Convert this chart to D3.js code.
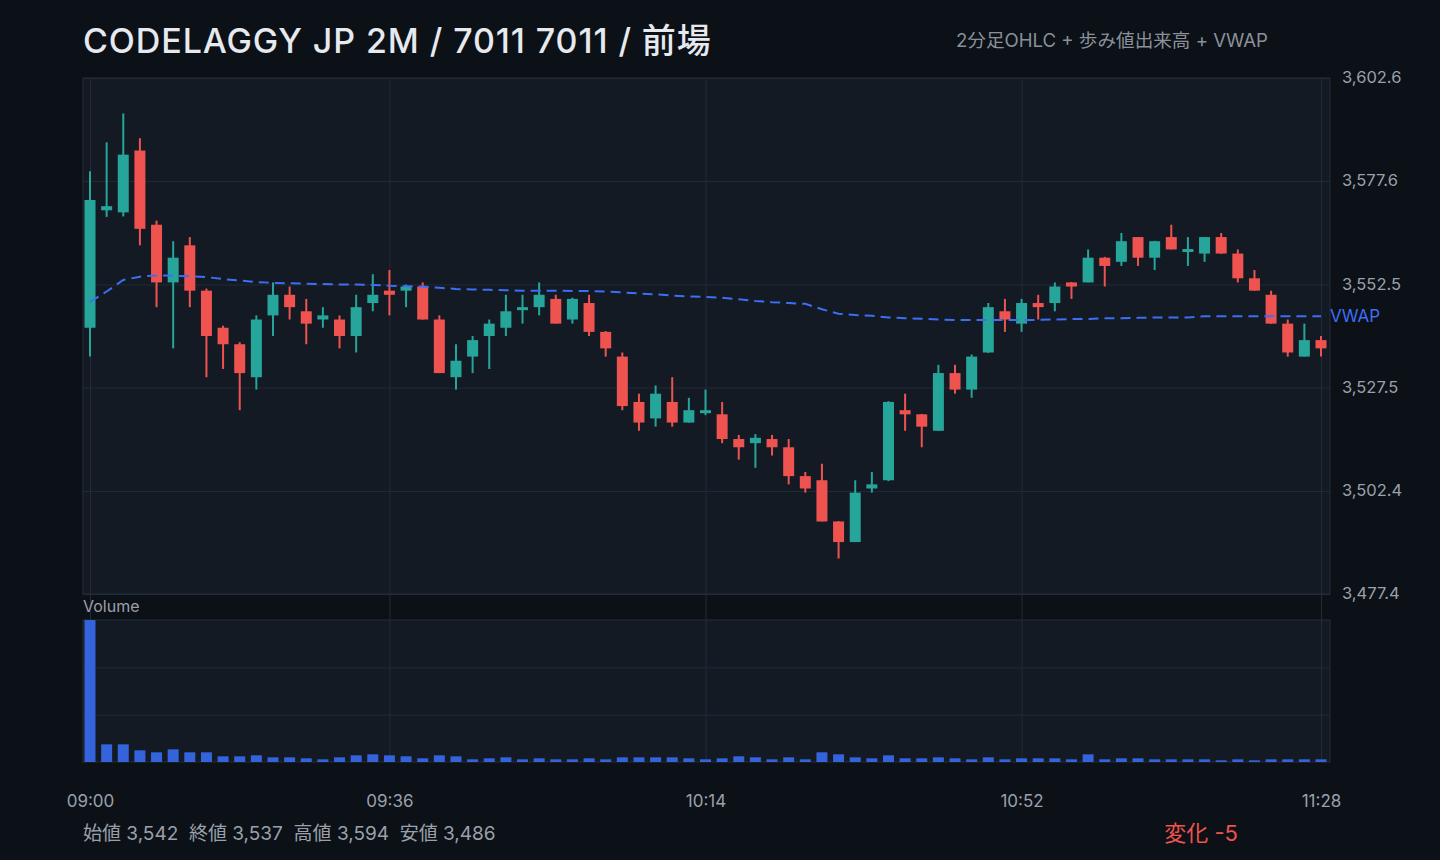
<!DOCTYPE html>
<html><head><meta charset="utf-8">
<script src="https://cdn.jsdelivr.net/npm/d3@7"></script>
<style>
html,body{margin:0;padding:0;background:#0c1017;}
svg{display:block;}
text{font-family:Inter,"Noto Sans CJK JP","Noto Sans",sans-serif;}
</style></head>
<body><svg id="c" width="1440" height="860"></svg>
<script>
// ---- data (2-minute candles, 09:00 .. 11:28) ----
const tickLabels = ["09:00","09:36","10:14","10:52","11:28"];
const tickIndex = [0,18,37,56,74];
const priceTicks = [3477.4,3502.4,3527.5,3552.5,3577.6,3602.6];

const open = [
 3542,3570.5,3570,3585,3567,3553,3562,3551,3542,3538,
 3530,3545,3550,3546,3544,3544,3540,3548,3551,3551,
 3552,3544,3530,3535,3540,3542,3546.3,3547,3549,3544,
 3548,3541,3535,3524,3520,3524,3519,3521.3,3521,3515,
 3514,3515,3513,3506,3505,3495,3490,3503,3505,3522,
 3521,3517,3531,3527,3536,3546,3543,3548,3548,3553,
 3553,3559,3558,3564,3559,3564,3560.4,3560,3564,3560,
 3554,3550,3543,3535,3539];
const high = [
 3580,3587,3594,3588,3568,3563,3564,3551.5,3542.5,3538.5,
 3545,3553,3552,3549,3547,3545,3550,3555,3556,3552.5,
 3553,3545,3538,3540,3544,3550,3550,3553,3550,3549.3,
 3550,3541.2,3536,3526,3528,3530,3525,3527,3524,3516,
 3516.2,3516,3515,3507,3509,3495.1,3505,3507,3524.2,3526,
 3521.1,3533,3533,3535.5,3548,3549,3549,3550,3553,3553.1,
 3561,3559.2,3565,3564,3563.1,3567,3564,3564,3565,3561,
 3556,3551,3544,3543,3540];
const low = [
 3535,3568.9,3569,3562,3547,3537,3547,3530,3532,3522,
 3527,3540,3544,3538,3542,3537,3536,3546,3545,3547,
 3544,3531,3527,3531,3532,3540,3543,3545,3543,3543,
 3540,3535,3522,3517,3518,3518,3519,3520.8,3514,3510,
 3508,3511,3504,3502,3495,3486,3490,3502,3504.8,3517,
 3513,3517,3526,3525,3535.9,3541,3541,3544,3546,3549,
 3553,3552,3557,3557,3556,3561,3557,3558,3560,3553,
 3551,3543,3535,3535,3535];
const close = [
 3573,3571.5,3584,3566,3553,3559,3551,3540,3538,3531,
 3544,3550,3547,3543,3545,3540,3547,3550,3550,3552,
 3544,3531,3534,3539,3543,3546,3547,3550,3543,3549,
 3541,3537,3523,3519,3526,3519,3522,3522,3515,3513,
 3515.3,3513,3506,3503,3495,3490,3502,3504,3524,3521,
 3518,3531,3527,3535,3547,3544,3548,3547,3552,3552,
 3559,3557,3563,3559,3563,3561,3561.1,3564,3560,3554,
 3551,3543,3536,3539,3537];
const volume = [
 1423,177,177,117,97,127,97,97,57,57,
 67,47,47,37,27,47,67,77,67,57,
 37,67,57,27,37,47,27,37,27,27,
 37,27,47,47,47,47,37,27,37,57,
 47,27,47,27,97,77,47,37,67,37,
 37,47,37,27,47,27,37,37,37,27,
 77,27,37,37,27,27,27,27,17,27,
 17,27,27,27,27];
const vwap = [
 3548.3,3550.8,3553.6,3554.4,3554.7,3554.6,3554.5,3554.3,3553.8,3553.5,
 3553.1,3552.9,3552.8,3552.7,3552.6,3552.5,3552.5,3552.4,3552.2,3552.1,
 3552.0,3551.7,3551.4,3551.3,3551.2,3551.1,3551.0,3551.0,3551.0,3550.9,
 3550.9,3550.8,3550.6,3550.3,3550.1,3549.8,3549.6,3549.5,3549.3,3548.9,
 3548.5,3548.2,3548.0,3547.8,3546.5,3545.4,3545.1,3544.9,3544.5,3544.3,
 3544.2,3544.0,3543.9,3543.9,3543.9,3543.9,3543.9,3543.9,3544.0,3544.1,
 3544.1,3544.3,3544.3,3544.4,3544.5,3544.5,3544.5,3544.8,3544.8,3544.8,
 3544.8,3544.8,3544.8,3544.8,3544.8];

// ---- layout ----
const svg = d3.select("#c");
const W = 1440, H = 860;
const L = 83, R = 1330, T = 78, B = 594;
const VT = 620, VB = 762;
const UP = "#26a69a", DN = "#ef5350", VW = "#3d6ef5";
const gridC = "#232b36", txtC = "#9aa1aa";

svg.append("rect").attr("width",W).attr("height",H).attr("fill","#0c1017");

const n = open.length;
const idx = d3.range(n);
const x = d3.scaleLinear().domain([0, n-1]).range([90, 1321]);
const y = d3.scaleLinear().domain([priceTicks[0], priceTicks[priceTicks.length-1]]).range([B, T]);
const yv = d3.scaleLinear().domain([0, d3.max(volume)]).range([VB, VT]);

// panels
svg.append("rect").attr("x",L).attr("y",T).attr("width",R-L).attr("height",B-T)
  .attr("fill","#131a24").attr("stroke","#252e39");
svg.append("rect").attr("x",L).attr("y",VT).attr("width",R-L).attr("height",VB-VT)
  .attr("fill","#131a24").attr("stroke","#252e39");

// horizontal grid (price) via axis
const yAxis = d3.axisRight(y).tickValues(priceTicks).tickSize(-(R-L)).tickPadding(12)
  .tickFormat(d3.format(",.1f"));
const gy = svg.append("g").attr("transform",`translate(${R},0)`).call(yAxis);
gy.select(".domain").remove();
gy.selectAll("line").attr("stroke",gridC).attr("stroke-width",1);
gy.selectAll("text").attr("fill",txtC).attr("font-size",16.5).attr("x",12).attr("dy","0.3em");

// volume grid
const vmax = d3.max(volume);
const gv = svg.append("g").attr("transform",`translate(${R},0)`)
  .call(d3.axisRight(yv).tickValues([vmax/3, 2*vmax/3]).tickSize(-(R-L)).tickFormat(""));
gv.select(".domain").remove();
gv.selectAll("line").attr("stroke",gridC);

// vertical grid + time axis
const gx = svg.append("g").attr("transform",`translate(0,${VB})`)
  .call(d3.axisBottom(x).tickValues(tickIndex).tickSize(-(VB-T))
    .tickFormat((d,i)=>tickLabels[i]).tickPadding(33));
gx.select(".domain").remove();
gx.selectAll("line").attr("stroke",gridC);
gx.selectAll("text").attr("fill",txtC).attr("font-size",17);

// candles
const cw = 11;
const cg = svg.append("g");
cg.selectAll("line.wick").data(idx).join("line")
  .attr("x1",i=>x(i)).attr("x2",i=>x(i))
  .attr("y1",i=>y(high[i])).attr("y2",i=>y(low[i]))
  .attr("stroke",i=>close[i]>=open[i]?UP:DN).attr("stroke-width",2);
cg.selectAll("rect.body").data(idx).join("rect")
  .attr("x",i=>x(i)-cw/2).attr("width",cw)
  .attr("y",i=>y(Math.max(open[i],close[i])))
  .attr("height",i=>Math.max(3, Math.abs(y(open[i])-y(close[i]))))
  .attr("fill",i=>close[i]>=open[i]?UP:DN);

// VWAP
const line = d3.line().x(i=>x(i)).y(i=>y(vwap[i]));
svg.append("path").datum(idx).attr("d",line).attr("fill","none")
  .attr("stroke",VW).attr("stroke-width",2).attr("stroke-dasharray","10,6");
svg.append("text").attr("x",R).attr("y",y(vwap[n-1])+6).text("VWAP")
  .attr("fill",VW).attr("font-size",17);

// volume bars
svg.append("g").selectAll("rect").data(idx).join("rect")
  .attr("x",i=>x(i)-cw/2).attr("width",cw)
  .attr("y",i=>yv(volume[i])).attr("height",i=>VB-yv(volume[i]))
  .attr("fill","#3463dc");
svg.append("text").attr("x",L).attr("y",612).text("Volume").attr("fill",txtC).attr("font-size",16);

// titles
svg.append("text").attr("x",L).attr("y",53).text("CODELAGGY JP 2M / 7011 7011 / 前場")
  .attr("fill","#e6e9ee").attr("font-size",34).attr("font-weight",500).attr("letter-spacing",0.9);
svg.append("text").attr("x",1268).attr("y",47).attr("text-anchor","end")
  .text("2分足OHLC + 歩み値出来高 + VWAP").attr("fill","#8a919b").attr("font-size",18.6);

// stats
const fmt = d3.format(",");
const o0 = open[0], cN = close[n-1], hi = d3.max(high), lo = d3.min(low);
svg.append("text").attr("x",L).attr("y",840).attr("fill",txtC).attr("font-size",19)
  .attr("xml:space","preserve")
  .text(`始値 ${fmt(o0)}  終値 ${fmt(cN)}  高値 ${fmt(hi)}  安値 ${fmt(lo)}`);
const chg = cN - o0;
svg.append("text").attr("x",1238).attr("y",841).attr("text-anchor","end")
  .attr("fill", chg>=0?UP:DN).attr("font-size",22)
  .text(`変化 ${chg>0?"+":""}${chg}`);
</script></body></html>
